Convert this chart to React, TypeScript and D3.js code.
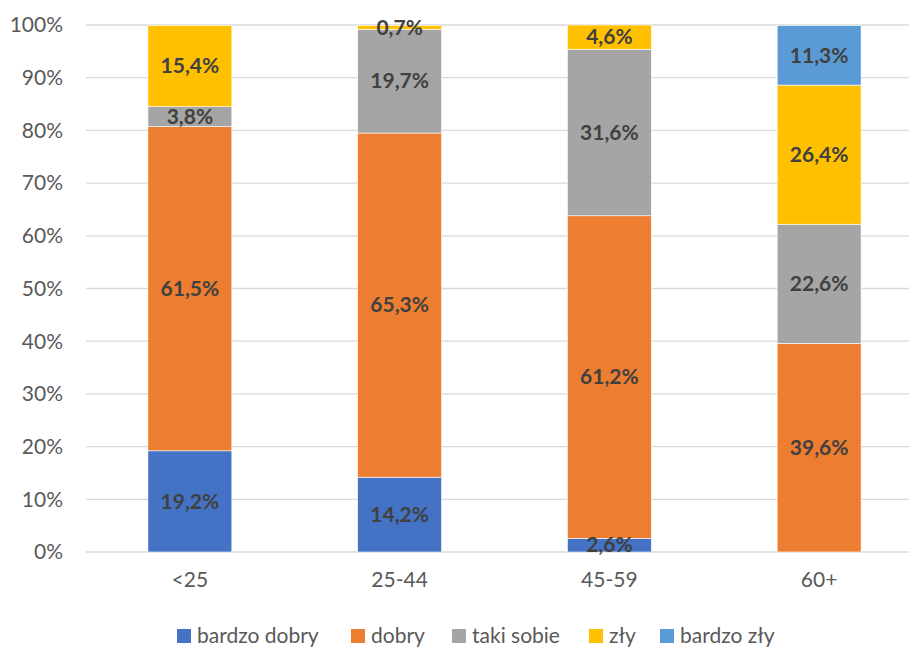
import React, { useEffect, useRef } from 'react';
import * as d3 from 'd3';

// categories and series
const categories = ['<25', '25-44', '45-59', '60+'];
const seriesNames = ['bardzo dobry', 'dobry', 'taki sobie', 'zły', 'bardzo zły'];
const seriesColors = ['#4472C4', '#ED7D31', '#A5A5A5', '#FFC000', '#5B9BD5'];

// values in percent, per category
const bardzoDobry = [19.2, 14.2, 2.6, 0];
const dobry = [61.5, 65.3, 61.2, 39.6];
const takiSobie = [3.8, 19.7, 31.6, 22.6];
const zly = [15.4, 0.7, 4.6, 26.4];
const bardzoZly = [0, 0, 0, 11.3];

const yTicks = [0, 10, 20, 30, 40, 50, 60, 70, 80, 90, 100];

const FONT = 'Lato, "Open Sans", sans-serif';
const FS = 21;

const App = () => {
  const svgRef = useRef<SVGSVGElement>(null);

  useEffect(() => {
    if (!svgRef.current) return;
    const W = 909;
    const H = 648;
    const svg = d3.select(svgRef.current).attr('width', W).attr('height', H);
    svg.selectAll('*').remove();

    const allSeries = [bardzoDobry, dobry, takiSobie, zly, bardzoZly];
    const rows = categories.map((c, i) => {
      const row: any = { cat: c };
      seriesNames.forEach((s, j) => { row[s] = allSeries[j][i]; });
      return row;
    });

    const stack = d3.stack<any>().keys(seriesNames);
    const layers = stack(rows);

    const x = d3.scaleBand().domain(categories).range([85, 924]).paddingInner(0.6).paddingOuter(0.3);
    const y = d3.scaleLinear().domain([0, 100]).range([552, 25]);

    // gridlines
    svg.append('g')
      .selectAll('line')
      .data(yTicks)
      .enter()
      .append('line')
      .attr('x1', 86)
      .attr('x2', W)
      .attr('y1', d => y(d))
      .attr('y2', d => y(d))
      .attr('stroke', '#D9D9D9')
      .attr('stroke-width', 1.3);

    // y tick labels
    svg.append('g')
      .selectAll('text')
      .data(yTicks)
      .enter()
      .append('text')
      .attr('x', 63)
      .attr('y', d => y(d))
      .attr('dy', '0.35em')
      .attr('text-anchor', 'end')
      .attr('font-family', FONT)
      .attr('font-size', FS)
      .attr('fill', '#595959')
      .text(d => d + '%');

    // bars
    const g = svg.append('g');
    layers.forEach((layer, j) => {
      g.selectAll('.bar' + j)
        .data(layer.filter(d => d[1] - d[0] > 0))
        .enter()
        .append('rect')
        .attr('x', d => x(d.data.cat)!)
        .attr('width', x.bandwidth())
        .attr('y', d => y(d[1]))
        .attr('height', d => y(d[0]) - y(d[1]))
        .attr('fill', seriesColors[j])
        .attr('stroke', '#ffffff')
        .attr('stroke-width', 0.6);
    });

    // data labels
    layers.forEach((layer, j) => {
      g.selectAll('.lbl' + j)
        .data(layer.filter(d => d[1] - d[0] > 0))
        .enter()
        .append('text')
        .attr('x', d => x(d.data.cat)! + x.bandwidth() / 2)
        .attr('y', d => (y(d[0]) + y(d[1])) / 2)
        .attr('dy', '0.35em')
        .attr('text-anchor', 'middle')
        .attr('font-family', FONT)
        .attr('font-size', FS)
        .attr('font-weight', 'bold')
        .attr('fill', '#404040')
        .text(d => (d[1] - d[0]).toFixed(1).replace('.', ',') + '%');
    });

    // x labels
    svg.append('g')
      .selectAll('text')
      .data(categories)
      .enter()
      .append('text')
      .attr('x', d => x(d)! + x.bandwidth() / 2)
      .attr('y', 580)
      .attr('dy', '0.35em')
      .attr('text-anchor', 'middle')
      .attr('font-family', FONT)
      .attr('font-size', FS)
      .attr('fill', '#595959')
      .text(d => d);

    // legend
    const legendX = [177, 351, 452, 589, 660];
    const leg = svg.append('g');
    seriesNames.forEach((s, j) => {
      leg.append('rect')
        .attr('x', legendX[j])
        .attr('y', 629)
        .attr('width', 14)
        .attr('height', 14)
        .attr('fill', seriesColors[j]);
      leg.append('text')
        .attr('x', legendX[j] + 20)
        .attr('y', 636)
        .attr('dy', '0.35em')
        .attr('font-family', FONT)
        .attr('font-size', FS)
        .attr('fill', '#595959')
        .text(s);
    });
  }, []);

  return <svg ref={svgRef} style={{ position: 'absolute', left: 0, top: 0 }}></svg>;
};

export default App;
